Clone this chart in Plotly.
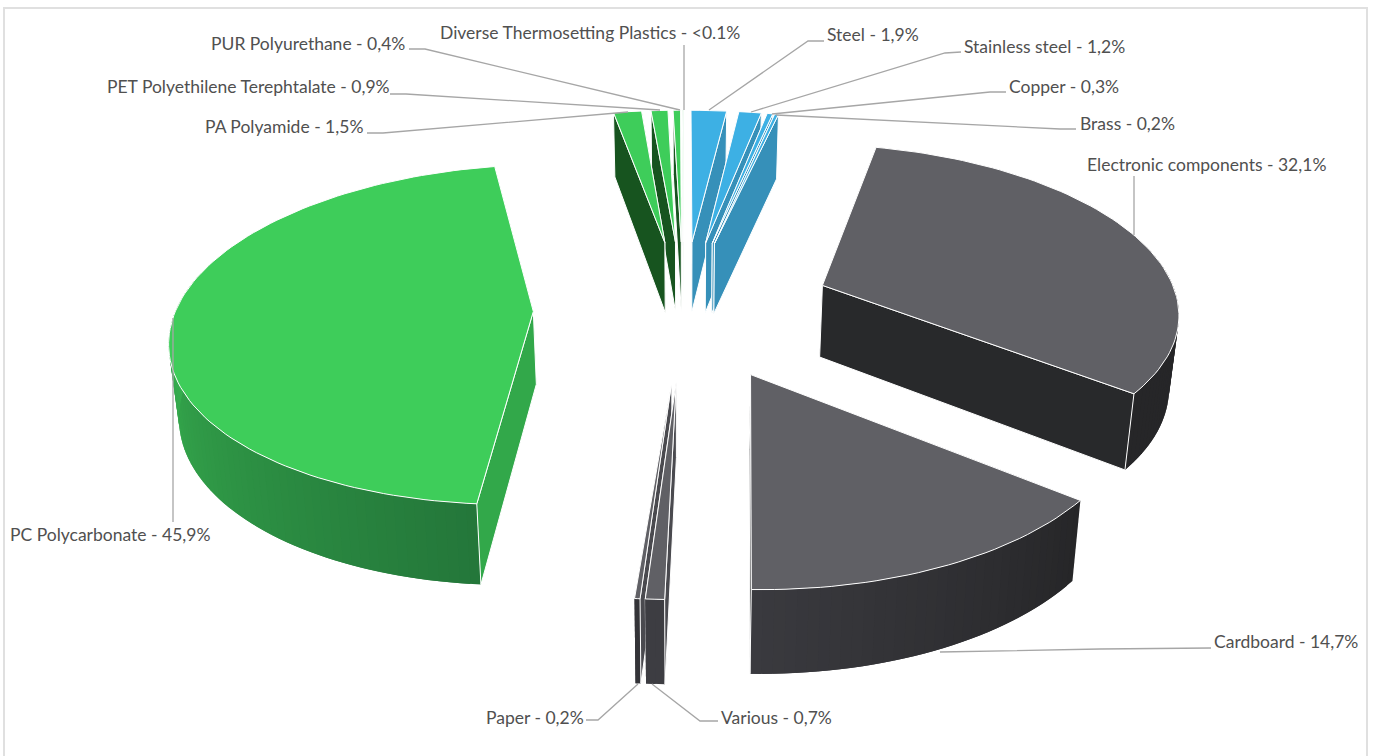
import math
import plotly.graph_objects as go

# Material shares in percent, clockwise from twelve o'clock
materials = ["Steel", "Stainless steel", "Copper", "Brass", "Electronic components",
             "Cardboard", "Various", "Paper", "PC Polycarbonate", "PA Polyamide",
             "PET Polyethilene Terephtalate", "PUR Polyurethane",
             "Diverse Thermosetting Plastics"]
shares = [1.9, 1.2, 0.3, 0.2, 32.1, 14.7, 0.7, 0.2, 45.9, 1.5, 0.9, 0.4, 0.05]
share_labels = ["1,9%", "1,2%", "0,3%", "0,2%", "32,1%", "14,7%", "0,7%", "0,2%",
                "45,9%", "1,5%", "0,9%", "0,4%", "<0.1%"]
groups = ["metal", "metal", "metal", "metal", "grey", "grey", "grey", "grey",
          "plastic", "plastic", "plastic", "plastic", "plastic"]

# Group colours: top surface, cut face, rim start, rim end
TOP = {"metal": "#3db0e4", "grey": "#606065", "plastic": "#3ecd5a"}
CUT = {"metal": "#3690b9", "grey": "#28292b", "plastic": "#17541f"}
RIM = {
    "Electronic components": ("#262628", "#262628"),
    "Cardboard": ("#262628", "#3a3a3f"),
    "Various": ("#3d3d42", "#3d3d42"),
    "Paper": ("#343438", "#343438"),
    "PC Polycarbonate": ("#24773a", "#48e362"),
}
CUT_OVERRIDE = {"PC Polycarbonate": "#32a84a", "Various": "#4a4a4f", "Paper": "#4a4a4f"}

# Projection of the tilted pie onto the page
CX, CY = 683.5, 308.0
SCALE_X, SCALE_Y = 357.0, 166.0
PERSPECTIVE = 0.135
PULL = 0.42
BOTTOM_SHRINK = 0.98


def project(px, py, bottom=False):
    s = 1.0 / (1.0 + PERSPECTIVE * py)
    x = SCALE_X * px * s
    y = CY - SCALE_Y * py * s
    if bottom:
        x *= BOTTOM_SHRINK
        y += 21.6 + 51.0 * s
    return CX + x, y


def rim_xy(theta, mid):
    return (PULL * math.sin(mid) + math.sin(theta), PULL * math.cos(mid) + math.cos(theta))


def mix(a, b, t):
    ca = [int(a[i:i + 2], 16) for i in (1, 3, 5)]
    cb = [int(b[i:i + 2], 16) for i in (1, 3, 5)]
    return "rgb(%d,%d,%d)" % tuple(round(u + (v - u) * t) for u, v in zip(ca, cb))


fig = go.Figure()


def polygon(points, fill, edge=None, width=1.0):
    xs = [p[0] for p in points] + [points[0][0]]
    ys = [p[1] for p in points] + [points[0][1]]
    fig.add_trace(go.Scatter(x=xs, y=ys, mode="lines", fill="toself", fillcolor=fill,
                             line=dict(color=edge or fill, width=width),
                             hoverinfo="skip", showlegend=False))


total = sum(shares)
slices = []
cumulative = 0.0
for name, value, group in zip(materials, shares, groups):
    start = cumulative / total * 2 * math.pi
    cumulative += value
    end = cumulative / total * 2 * math.pi
    slices.append(dict(name=name, group=group, start=start, end=end, mid=(start + end) / 2))


def cut_face(theta, mid, apex, colour):
    p = rim_xy(theta, mid)
    polygon([project(*apex), project(*p), project(*p, True), project(*apex, True)],
            colour, edge="#ffffff", width=1.0)


# Far slices first so nearer ones paint over them
for sl in sorted(slices, key=lambda d: -math.cos(d["mid"])):
    a0, a1, mid = sl["start"], sl["end"], sl["mid"]
    apex = (PULL * math.sin(mid), PULL * math.cos(mid))
    steps = max(2, int(math.degrees(a1 - a0) / 1.5))
    angles = [a0 + (a1 - a0) * i / steps for i in range(steps + 1)]
    far, near = sorted((a0, a1), key=lambda t: -rim_xy(t, mid)[1])
    cut = CUT_OVERRIDE.get(sl["name"], CUT[sl["group"]])

    cut_face(far, mid, apex, cut)

    # Outer rim as bands that overlap the next one, shaded along the arc
    c0, c1 = RIM.get(sl["name"], (CUT[sl["group"]], CUT[sl["group"]]))
    for i in range(steps):
        t0, t1 = angles[i], angles[min(i + 2, steps)]
        if math.cos((angles[i] + angles[i + 1]) / 2) > 0.2:
            continue
        p0, p1 = rim_xy(t0, mid), rim_xy(t1, mid)
        polygon([project(*p0), project(*p1), project(*p1, True), project(*p0, True)],
                mix(c0, c1, (i + 0.5) / steps), width=0)

    cut_face(near, mid, apex, cut)

    # Top surface
    top = [project(*apex)] + [project(*rim_xy(t, mid)) for t in angles]
    polygon(top, TOP[sl["group"]], edge="#ffffff", width=1.0)

# Label placement: (text x, text y, anchor, leader path)
placement = {
    "Steel": (825, 34, "left", [(824, 41), (808, 41), (709, 110)]),
    "Stainless steel": (962, 46, "left", [(961, 52), (945, 53), (751, 112)]),
    "Copper": (1007, 86, "left", [(1006, 92), (990, 92), (772, 114)]),
    "Brass": (1078, 123, "left", [(1076, 129), (1060, 129), (776, 115)]),
    "Electronic components": (1085, 164, "left", [(1134, 176), (1134, 235)]),
    "Cardboard": (1212, 641, "left", [(1211, 648), (1100, 649), (940, 652)]),
    "Various": (719, 717, "left", [(718, 721), (700, 721), (652, 684)]),
    "Paper": (586, 717, "right", [(586, 720), (598, 720), (638, 684)]),
    "PC Polycarbonate": (8, 534, "left", [(173, 522), (173, 318)]),
    "PA Polyamide": (365, 126, "right", [(367, 133), (383, 133), (628, 112)]),
    "PET Polyethilene Terephtalate": (392, 86, "right", [(390, 94), (406, 94), (660, 110)]),
    "PUR Polyurethane": (407, 43, "right", [(409, 49), (425, 49), (680, 110)]),
    "Diverse Thermosetting Plastics": (438, 32, "left", [(684, 45), (684, 110)]),
}

for name, text in zip(materials, share_labels):
    x, y, anchor, path = placement[name]
    fig.add_trace(go.Scatter(x=[p[0] for p in path], y=[p[1] for p in path], mode="lines",
                             line=dict(color="#a6a6a6", width=1.3),
                             hoverinfo="skip", showlegend=False))
    fig.add_annotation(x=x, y=y, text=f"{name} - {text}", showarrow=False,
                       xanchor=anchor, yanchor="middle", xref="x", yref="y",
                       font=dict(family="Lato", size=17.5, color="#505050"))

fig.add_shape(type="rect", x0=4, y0=8, x1=1367, y1=770, xref="x", yref="y",
              line=dict(color="#e0e0e0", width=2), fillcolor="rgba(0,0,0,0)")

fig.update_layout(
    width=1373, height=756, margin=dict(l=0, r=0, t=0, b=0),
    paper_bgcolor="#ffffff", plot_bgcolor="#ffffff", showlegend=False,
    xaxis=dict(range=[0, 1373], visible=False, fixedrange=True),
    yaxis=dict(range=[756, 0], visible=False, fixedrange=True),
)

fig.write_html("out.html", config={"displayModeBar": False})
